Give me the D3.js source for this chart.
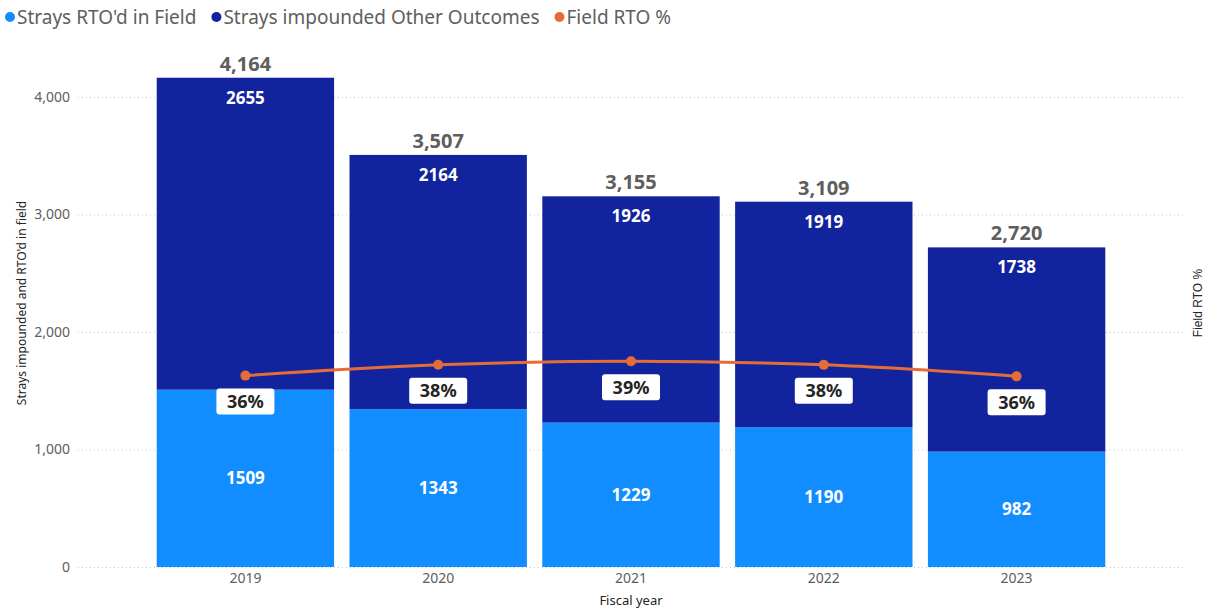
<!DOCTYPE html>
<html>
<head>
<meta charset="utf-8">
<title>Strays impounded and RTO'd in field</title>
<script src="https://d3js.org/d3.v7.min.js"></script>
<style>
  body { margin: 0; background: #fff; }
  text { font-family: "Segoe UI", "Noto Sans", "Open Sans", sans-serif; }
</style>
</head>
<body>
<div id="chart"></div>
<script>
// data
var years = ["2019", "2020", "2021", "2022", "2023"];
var rtoField = [1509, 1343, 1229, 1190, 982];
var otherOutcomes = [2655, 2164, 1926, 1919, 1738];
var yTicks = [0, 1000, 2000, 3000, 4000];
var seriesNames = ["Strays RTO'd in Field", "Strays impounded Other Outcomes", "Field RTO %"];
var colors = ["#118DFF", "#12239E", "#E66C37"];

var W = 1217, H = 613;
var margin = {top: 97, bottom: 46, left: 78, right: 32};
var plotBottom = H - margin.bottom; // 567

var svg = d3.select("#chart").append("svg")
    .attr("width", W)
    .attr("height", H);

var data = years.map(function(y, i) {
  return {
    year: y,
    rto: rtoField[i],
    other: otherOutcomes[i],
    total: rtoField[i] + otherOutcomes[i],
    pct: rtoField[i] / (rtoField[i] + otherOutcomes[i])
  };
});

var x = d3.scaleBand()
    .domain(years)
    .range([149, 1113])
    .paddingInner(0.08)
    .paddingOuter(0.04);

var y = d3.scaleLinear()
    .domain([0, 4000])
    .range([plotBottom, margin.top]);

var y2 = d3.scaleLinear()
    .domain([0, 0.89])
    .range([plotBottom, margin.top]);

// gridlines
svg.append("g")
  .selectAll("line")
  .data(yTicks)
  .enter().append("line")
    .attr("x1", 78)
    .attr("x2", 1185)
    .attr("y1", function(d) { return y(d) + 0.5; })
    .attr("y2", function(d) { return y(d) + 0.5; })
    .attr("stroke", "#c8c6c4")
    .attr("stroke-width", 1)
    .attr("stroke-dasharray", "1,3");

// left axis
var yAxis = d3.axisLeft(y)
    .tickValues(yTicks)
    .tickSize(0)
    .tickPadding(0)
    .tickFormat(d3.format(","));

var gy = svg.append("g")
    .attr("transform", "translate(70,0)")
    .call(yAxis);
gy.select(".domain").remove();
gy.selectAll("text")
    .attr("fill", "#605E5C")
    .style("font-size", "14px");

svg.append("text")
    .attr("transform", "translate(26,303) rotate(-90)")
    .attr("text-anchor", "middle")
    .attr("fill", "#252423")
    .style("font-size", "12px")
    .text("Strays impounded and RTO'd in field");

svg.append("text")
    .attr("transform", "translate(1202,303) rotate(-90)")
    .attr("text-anchor", "middle")
    .attr("fill", "#252423")
    .style("font-family", "'Liberation Sans', Arial, sans-serif")
    .style("font-size", "12px")
    .text("Field RTO %");

// bottom axis
var xAxis = d3.axisBottom(x).tickSize(0).tickPadding(6);
var gx = svg.append("g")
    .attr("transform", "translate(0," + plotBottom + ")")
    .call(xAxis);
gx.select(".domain").remove();
gx.selectAll("text")
    .attr("fill", "#605E5C")
    .style("font-size", "14px");

svg.append("text")
    .attr("x", (x.range()[0] + x.range()[1]) / 2)
    .attr("y", 605)
    .attr("text-anchor", "middle")
    .attr("fill", "#252423")
    .style("font-size", "13px")
    .text("Fiscal year");

// bars
var bars = svg.append("g");
bars.selectAll(".rto")
  .data(data)
  .enter().append("rect")
    .attr("class", "rto")
    .attr("x", function(d) { return x(d.year); })
    .attr("width", x.bandwidth())
    .attr("y", function(d) { return y(d.rto); })
    .attr("height", function(d) { return y(0) - y(d.rto); })
    .attr("fill", colors[0]);

bars.selectAll(".other")
  .data(data)
  .enter().append("rect")
    .attr("class", "other")
    .attr("x", function(d) { return x(d.year); })
    .attr("width", x.bandwidth())
    .attr("y", function(d) { return y(d.total); })
    .attr("height", function(d) { return y(d.rto) - y(d.total); })
    .attr("fill", colors[1]);

// segment labels
var labels = svg.append("g")
    .attr("fill", "#fff")
    .attr("text-anchor", "middle")
    .style("font-size", "17px")
    .style("font-weight", "bold");

labels.selectAll(".lblRto")
  .data(data)
  .enter().append("text")
    .attr("x", function(d) { return x(d.year) + x.bandwidth() / 2; })
    .attr("y", function(d) { return (y(0) + y(d.rto)) / 2; })
    .attr("dy", "0.35em")
    .text(function(d) { return d.rto; });

labels.selectAll(".lblOther")
  .data(data)
  .enter().append("text")
    .attr("x", function(d) { return x(d.year) + x.bandwidth() / 2; })
    .attr("y", function(d) { return y(d.total) + 20; })
    .attr("dy", "0.35em")
    .text(function(d) { return d.other; });

// totals
svg.append("g").selectAll("text")
  .data(data)
  .enter().append("text")
    .attr("x", function(d) { return x(d.year) + x.bandwidth() / 2; })
    .attr("y", function(d) { return y(d.total) - 14; })
    .attr("dy", "0.35em")
    .attr("text-anchor", "middle")
    .attr("fill", "#605E5C")
    .style("font-size", "20px")
    .style("font-weight", "bold")
    .text(function(d) { return d3.format(",")(d.total); });

// line
var line = d3.line()
    .x(function(d) { return x(d.year) + x.bandwidth() / 2; })
    .y(function(d) { return y2(d.pct); })
    .curve(d3.curveMonotoneX);

svg.append("path")
    .datum(data)
    .attr("d", line)
    .attr("fill", "none")
    .attr("stroke", colors[2])
    .attr("stroke-width", 3);

svg.append("g").selectAll("circle")
  .data(data)
  .enter().append("circle")
    .attr("cx", function(d) { return x(d.year) + x.bandwidth() / 2; })
    .attr("cy", function(d) { return y2(d.pct); })
    .attr("r", 5)
    .attr("fill", colors[2]);

// pct labels with white boxes
var pl = svg.append("g").selectAll("g")
  .data(data)
  .enter().append("g")
    .attr("transform", function(d) {
      return "translate(" + (x(d.year) + x.bandwidth() / 2) + "," + (y2(d.pct) + 26) + ")";
    });
pl.append("rect")
    .attr("x", -29).attr("y", -13)
    .attr("width", 58).attr("height", 26)
    .attr("rx", 3)
    .attr("fill", "#fff");
pl.append("text")
    .attr("text-anchor", "middle")
    .attr("dy", "0.35em")
    .attr("fill", "#252423")
    .style("font-size", "18px")
    .style("font-weight", "bold")
    .text(function(d) { return Math.round(d.pct * 100) + "%"; });

// legend
var legend = svg.append("g").attr("transform", "translate(10,17)");
var lx = 0;
seriesNames.forEach(function(name, i) {
  var g = legend.append("g").attr("transform", "translate(" + lx + ",0)");
  g.append("circle").attr("r", 5).attr("fill", colors[i]);
  var t = g.append("text")
      .attr("x", 7)
      .attr("dy", "0.35em")
      .attr("fill", "#605E5C")
      .style("font-size", "19px")
      .text(name);
  lx += 7 + t.node().getComputedTextLength() + 20;
});
</script>
</body>
</html>
